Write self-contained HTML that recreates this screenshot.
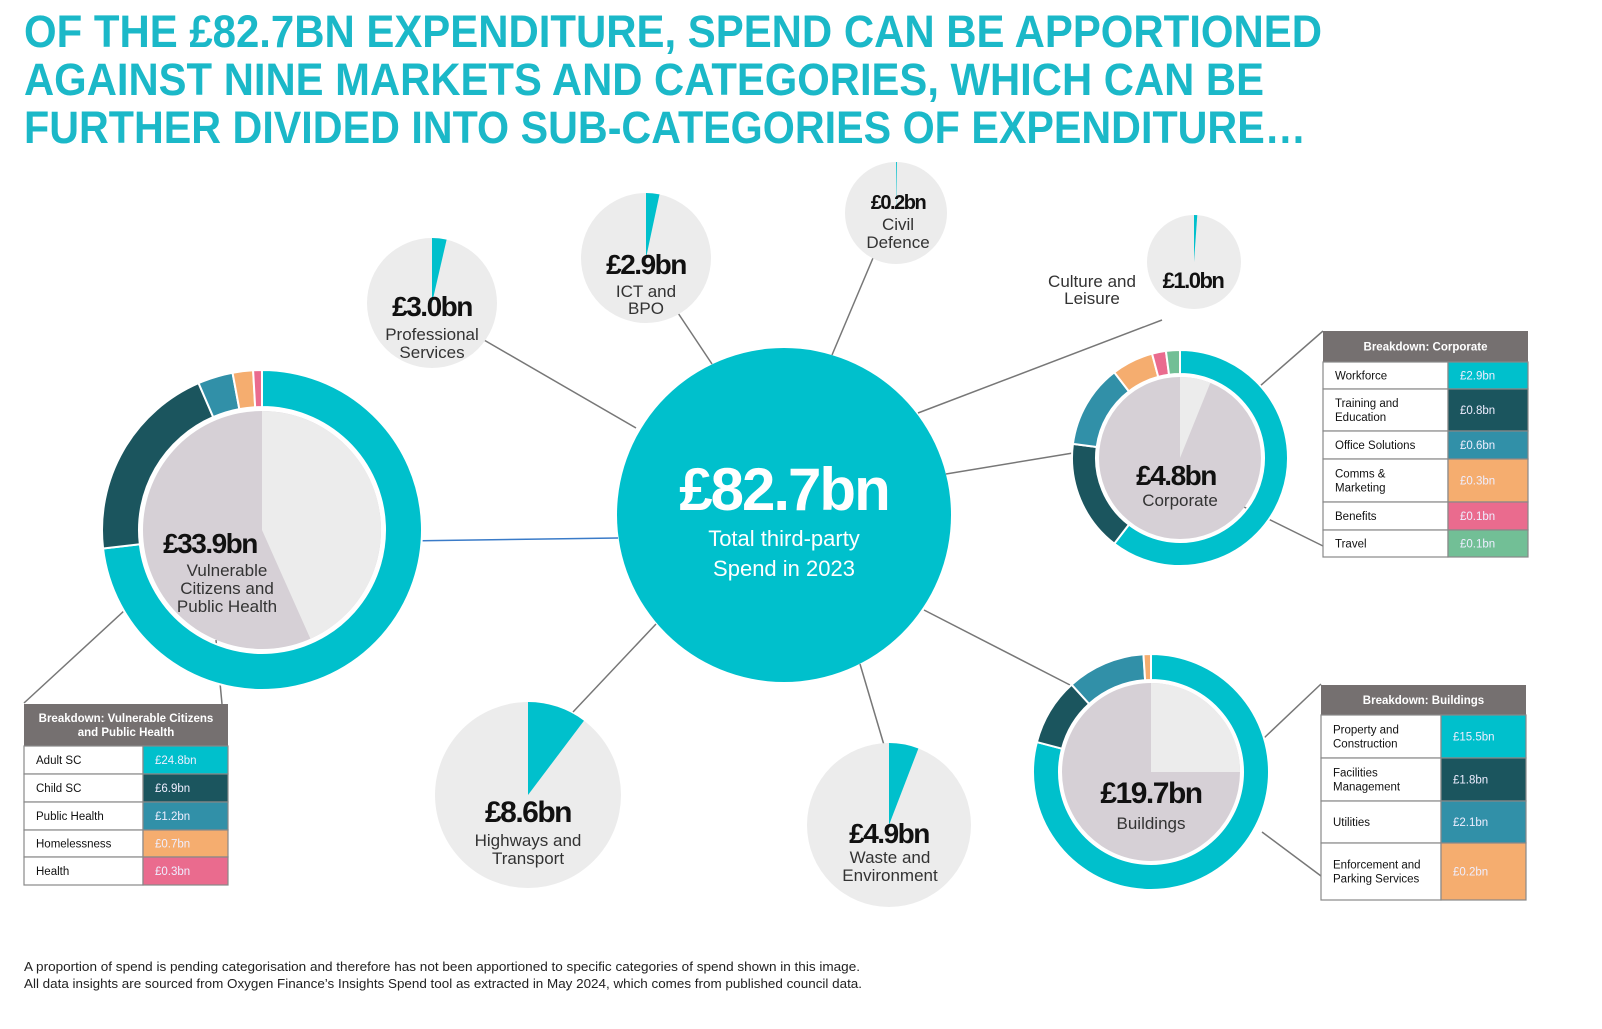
<!DOCTYPE html>
<html><head><meta charset="utf-8"><style>
html,body{margin:0;padding:0;background:#fff;}
svg{display:block;font-family:"Liberation Sans",sans-serif;}
</style></head><body>
<svg id="s" width="1602" height="1029" viewBox="0 0 1602 1029" xmlns="http://www.w3.org/2000/svg">
<g font-weight="bold" fill="#1bb8c8" font-size="45">
<text x="24" y="47" textLength="1298" lengthAdjust="spacingAndGlyphs">OF THE £82.7BN EXPENDITURE, SPEND CAN BE APPORTIONED</text>
<text x="24" y="95" textLength="1240" lengthAdjust="spacingAndGlyphs">AGAINST NINE MARKETS AND CATEGORIES, WHICH CAN BE</text>
<text x="24" y="143" textLength="1282" lengthAdjust="spacingAndGlyphs">FURTHER DIVIDED INTO SUB-CATEGORIES OF EXPENDITURE…</text>
</g>
<g stroke="#777" stroke-width="1.5" fill="none">
<line x1="636" y1="428" x2="484" y2="340"/>
<line x1="712" y1="364" x2="676" y2="310"/>
<line x1="832" y1="355" x2="873" y2="258"/>
<line x1="918" y1="413" x2="1162" y2="320"/>
<line x1="946" y1="474" x2="1073" y2="453"/>
<line x1="924" y1="610" x2="1070" y2="685"/>
<line x1="860" y1="664" x2="884" y2="745"/>
<line x1="656" y1="624" x2="573" y2="712"/>
<line x1="150" y1="587" x2="24" y2="703"/>
<line x1="216" y1="640" x2="222" y2="704"/>
<line x1="1252" y1="393" x2="1323" y2="331"/>
<line x1="1240" y1="505" x2="1323" y2="546"/>
<line x1="1264" y1="738" x2="1321" y2="684"/>
<line x1="1262" y1="832" x2="1321" y2="876"/>
</g>
<line x1="404" y1="541" x2="618" y2="538" stroke="#3a7bc8" stroke-width="1.5"/>
<g id="charts"></g>
<circle cx="784" cy="515" r="167" fill="#00c0cc"/>
<g text-anchor="middle">
<text x="784" y="510" font-size="60" font-weight="bold" fill="#fff" letter-spacing="-2">£82.7bn</text>
<text x="784" y="546" font-size="22" fill="#fff">Total third-party</text>
<text x="784" y="576" font-size="22" fill="#fff">Spend in 2023</text>
</g>
<g id="labels" text-anchor="middle" fill="#333">
<g font-weight="bold" fill="#111" letter-spacing="-1.5">
<text x="432" y="316" font-size="28">£3.0bn</text>
<text x="646" y="274" font-size="28">£2.9bn</text>
<text x="898" y="209" font-size="20">£0.2bn</text>
<text x="1193" y="288" font-size="22">£1.0bn</text>
<text x="528" y="822" font-size="30">£8.6bn</text>
<text x="889" y="843" font-size="28">£4.9bn</text>
<text x="210" y="553" font-size="28">£33.9bn</text>
<text x="1176" y="485" font-size="28">£4.8bn</text>
<text x="1151" y="803" font-size="30">£19.7bn</text>
</g>
<g font-size="17">
<text x="432" y="340">Professional</text><text x="432" y="358">Services</text>
<text x="646" y="297">ICT and</text><text x="646" y="314">BPO</text>
<text x="898" y="230">Civil</text><text x="898" y="248">Defence</text>
<text x="1092" y="287">Culture and</text><text x="1092" y="304">Leisure</text>
<text x="528" y="846">Highways and</text><text x="528" y="864">Transport</text>
<text x="890" y="863">Waste and</text><text x="890" y="881">Environment</text>
<text x="227" y="576">Vulnerable</text><text x="227" y="594">Citizens and</text><text x="227" y="612">Public Health</text>
<text x="1180" y="506">Corporate</text>
<text x="1151" y="829">Buildings</text>
</g>
</g>
<g id="tables" font-size="11.5"></g>
<g font-size="12.5" fill="#222">
<text x="24" y="971" textLength="836" lengthAdjust="spacingAndGlyphs">A proportion of spend is pending categorisation and therefore has not been apportioned to specific categories of spend shown in this image.</text>
<text x="24" y="988" textLength="838" lengthAdjust="spacingAndGlyphs">All data insights are sourced from Oxygen Finance’s Insights Spend tool as extracted in May 2024, which comes from published council data.</text>
</g>
</svg>
<script>
var NS="http://www.w3.org/2000/svg";
function el(p,t,a,txt){var e=document.createElementNS(NS,t);for(var k in a)e.setAttribute(k,a[k]);if(txt!=null)e.textContent=txt;p.appendChild(e);return e;}
function pt(cx,cy,r,a){a=(a-90)*Math.PI/180;return [cx+r*Math.cos(a),cy+r*Math.sin(a)];}
function wedge(cx,cy,r,a0,a1){var p0=pt(cx,cy,r,a0),p1=pt(cx,cy,r,a1);var l=(a1-a0)>180?1:0;return "M"+cx+","+cy+"L"+p0+"A"+r+","+r+" 0 "+l+" 1 "+p1+"Z";}
function ring(cx,cy,ri,ro,a0,a1){var p0=pt(cx,cy,ro,a0),p1=pt(cx,cy,ro,a1),q1=pt(cx,cy,ri,a1),q0=pt(cx,cy,ri,a0);var l=(a1-a0)>180?1:0;return "M"+p0+"A"+ro+","+ro+" 0 "+l+" 1 "+p1+"L"+q1+"A"+ri+","+ri+" 0 "+l+" 0 "+q0+"Z";}
var g=document.getElementById("charts");
var TE="#00c0cc",DK="#1b555e",MD="#3190a8",OR="#f5ad6f",PK="#ea6b8e",GR="#72bf96";
function pie(cx,cy,r,deg){el(g,"circle",{cx:cx,cy:cy,r:r,fill:"#ececec"});el(g,"path",{d:wedge(cx,cy,r,0,deg),fill:TE});}
pie(432,303,65,13);pie(646,258,65,12);pie(896,213,51,1);pie(1194,262,47,4);pie(528,795,93,37);pie(889,825,82,21);
function donut(cx,cy,ro,ri,pr,vals,cols,light){var s=0;vals.forEach(function(v){s+=v;});var a=0;
vals.forEach(function(v,i){var b=a+v/s*360;el(g,"path",{d:ring(cx,cy,ri,ro,a,b),fill:cols[i],stroke:"#fff","stroke-width":2});a=b;});
el(g,"circle",{cx:cx,cy:cy,r:pr,fill:"#d6d0d6"});el(g,"path",{d:wedge(cx,cy,pr,0,light),fill:"#ececec"});}
donut(262,530,160,123,119,[24.8,6.9,1.2,0.7,0.3],[TE,DK,MD,OR,PK],156);
donut(1180,458,108,84,81,[2.9,0.8,0.6,0.3,0.1,0.1],[TE,DK,MD,OR,PK,GR],22);
donut(1151,772,118,92,89,[15.5,1.8,2.1,0.2],[TE,DK,MD,OR],90);
var T=document.getElementById("tables");
function table(x,y,w,split,hh,title,rows){
el(T,"rect",{x:x,y:y,width:w,height:hh,fill:"#757070"});
title.forEach(function(t,i){el(T,"text",{x:x+w/2,y:y+hh/2+4+(i-(title.length-1)/2)*14,"text-anchor":"middle",fill:"#fff","font-weight":"bold"},t);});
var yy=y+hh;rows.forEach(function(r){var h=r[0];
el(T,"rect",{x:x,y:yy,width:split-x,height:h,fill:"#fff",stroke:"#888","stroke-width":1.2});
el(T,"rect",{x:split,y:yy,width:x+w-split,height:h,fill:r[3],stroke:"#888","stroke-width":1.2});
r[1].forEach(function(t,i){el(T,"text",{x:x+12,y:yy+h/2+4+(i-(r[1].length-1)/2)*14,fill:"#111"},t);});
el(T,"text",{x:split+12,y:yy+h/2+4,fill:"#eef"},r[2]);yy+=h;});}
table(1323,331,205,1448,31,["Breakdown: Corporate"],[[27,["Workforce"],"£2.9bn",TE],[42,["Training and","Education"],"£0.8bn",DK],[28,["Office Solutions"],"£0.6bn",MD],[43,["Comms &","Marketing"],"£0.3bn",OR],[28,["Benefits"],"£0.1bn",PK],[27,["Travel"],"£0.1bn",GR]]);
table(1321,685,205,1441,30,["Breakdown: Buildings"],[[43,["Property and","Construction"],"£15.5bn",TE],[43,["Facilities","Management"],"£1.8bn",DK],[42,["Utilities"],"£2.1bn",MD],[57,["Enforcement and","Parking Services"],"£0.2bn",OR]]);
table(24,704,204,143,42,["Breakdown: Vulnerable Citizens","and Public Health"],[[28,["Adult SC"],"£24.8bn",TE],[28,["Child SC"],"£6.9bn",DK],[28,["Public Health"],"£1.2bn",MD],[27,["Homelessness"],"£0.7bn",OR],[28,["Health"],"£0.3bn",PK]]);
</script>
</body></html>
